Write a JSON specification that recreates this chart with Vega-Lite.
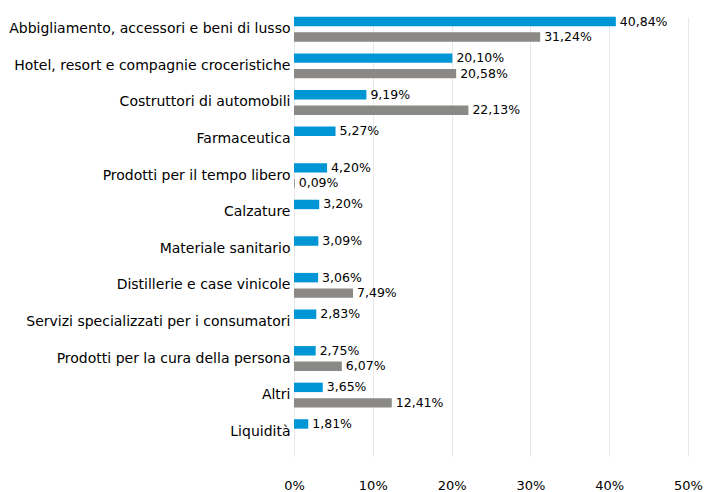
{
  "$schema": "https://vega.github.io/schema/vega-lite/v6.json",
  "autosize": "none",
  "width": 394,
  "height": 467,
  "padding": {"left": 294, "top": 0, "right": 16, "bottom": 25},
  "config": {
    "locale": {"number": {"decimal": ",", "thousands": ".", "grouping": [3], "currency": ["€", ""]}},
    "view": {"stroke": null},
    "font": "DejaVu Sans"
  },
  "data": {
    "values": [
      {"cat": "Abbigliamento, accessori e beni di lusso", "serie": "Fondo", "v": 0.4084},
      {"cat": "Abbigliamento, accessori e beni di lusso", "serie": "Benchmark", "v": 0.3124},
      {"cat": "Hotel, resort e compagnie croceristiche", "serie": "Fondo", "v": 0.2010},
      {"cat": "Hotel, resort e compagnie croceristiche", "serie": "Benchmark", "v": 0.2058},
      {"cat": "Costruttori di automobili", "serie": "Fondo", "v": 0.0919},
      {"cat": "Costruttori di automobili", "serie": "Benchmark", "v": 0.2213},
      {"cat": "Farmaceutica", "serie": "Fondo", "v": 0.0527},
      {"cat": "Prodotti per il tempo libero", "serie": "Fondo", "v": 0.0420},
      {"cat": "Prodotti per il tempo libero", "serie": "Benchmark", "v": 0.0009},
      {"cat": "Calzature", "serie": "Fondo", "v": 0.0320},
      {"cat": "Materiale sanitario", "serie": "Fondo", "v": 0.0309},
      {"cat": "Distillerie e case vinicole", "serie": "Fondo", "v": 0.0306},
      {"cat": "Distillerie e case vinicole", "serie": "Benchmark", "v": 0.0749},
      {"cat": "Servizi specializzati per i consumatori", "serie": "Fondo", "v": 0.0283},
      {"cat": "Prodotti per la cura della persona", "serie": "Fondo", "v": 0.0275},
      {"cat": "Prodotti per la cura della persona", "serie": "Benchmark", "v": 0.0607},
      {"cat": "Altri", "serie": "Fondo", "v": 0.0365},
      {"cat": "Altri", "serie": "Benchmark", "v": 0.1241},
      {"cat": "Liquidità", "serie": "Fondo", "v": 0.0181}
    ]
  },
  "encoding": {
    "y": {
      "field": "cat",
      "type": "nominal",
      "sort": null,
      "scale": {"range": [11, 450], "paddingInner": 0.318, "paddingOuter": 0.159},
      "axis": {
        "title": null,
        "ticks": false,
        "domain": false,
        "labelPadding": 4,
        "labelFontSize": 14,
        "labelColor": "#000000",
        "labelLimit": 400
      }
    },
    "yOffset": {
      "field": "serie",
      "type": "nominal",
      "sort": ["Fondo", "Benchmark"],
      "scale": {"domain": ["Fondo", "Benchmark"], "paddingInner": 0.39, "paddingOuter": 0}
    },
    "x": {
      "field": "v",
      "type": "quantitative",
      "scale": {"domain": [0, 0.5], "nice": false},
      "axis": {
        "title": null,
        "format": ".0%",
        "values": [0, 0.1, 0.2, 0.3, 0.4, 0.5],
        "ticks": false,
        "domain": false,
        "grid": true,
        "gridColor": "#e8e8e8",
        "gridWidth": 1,
        "labelPadding": 12,
        "labelFontSize": 13,
        "labelColor": "#000000",
        "labelFlush": false
      }
    }
  },
  "layer": [
    {
      "mark": {"type": "bar"},
      "encoding": {
        "color": {
          "field": "serie",
          "type": "nominal",
          "scale": {"domain": ["Fondo", "Benchmark"], "range": ["#0096D6", "#8A8985"]},
          "legend": null
        }
      }
    },
    {
      "mark": {"type": "text", "align": "left", "baseline": "middle", "dx": 4, "fontSize": 12.5, "color": "#000000"},
      "encoding": {
        "text": {"field": "v", "type": "quantitative", "format": ".2%"}
      }
    }
  ]
}
